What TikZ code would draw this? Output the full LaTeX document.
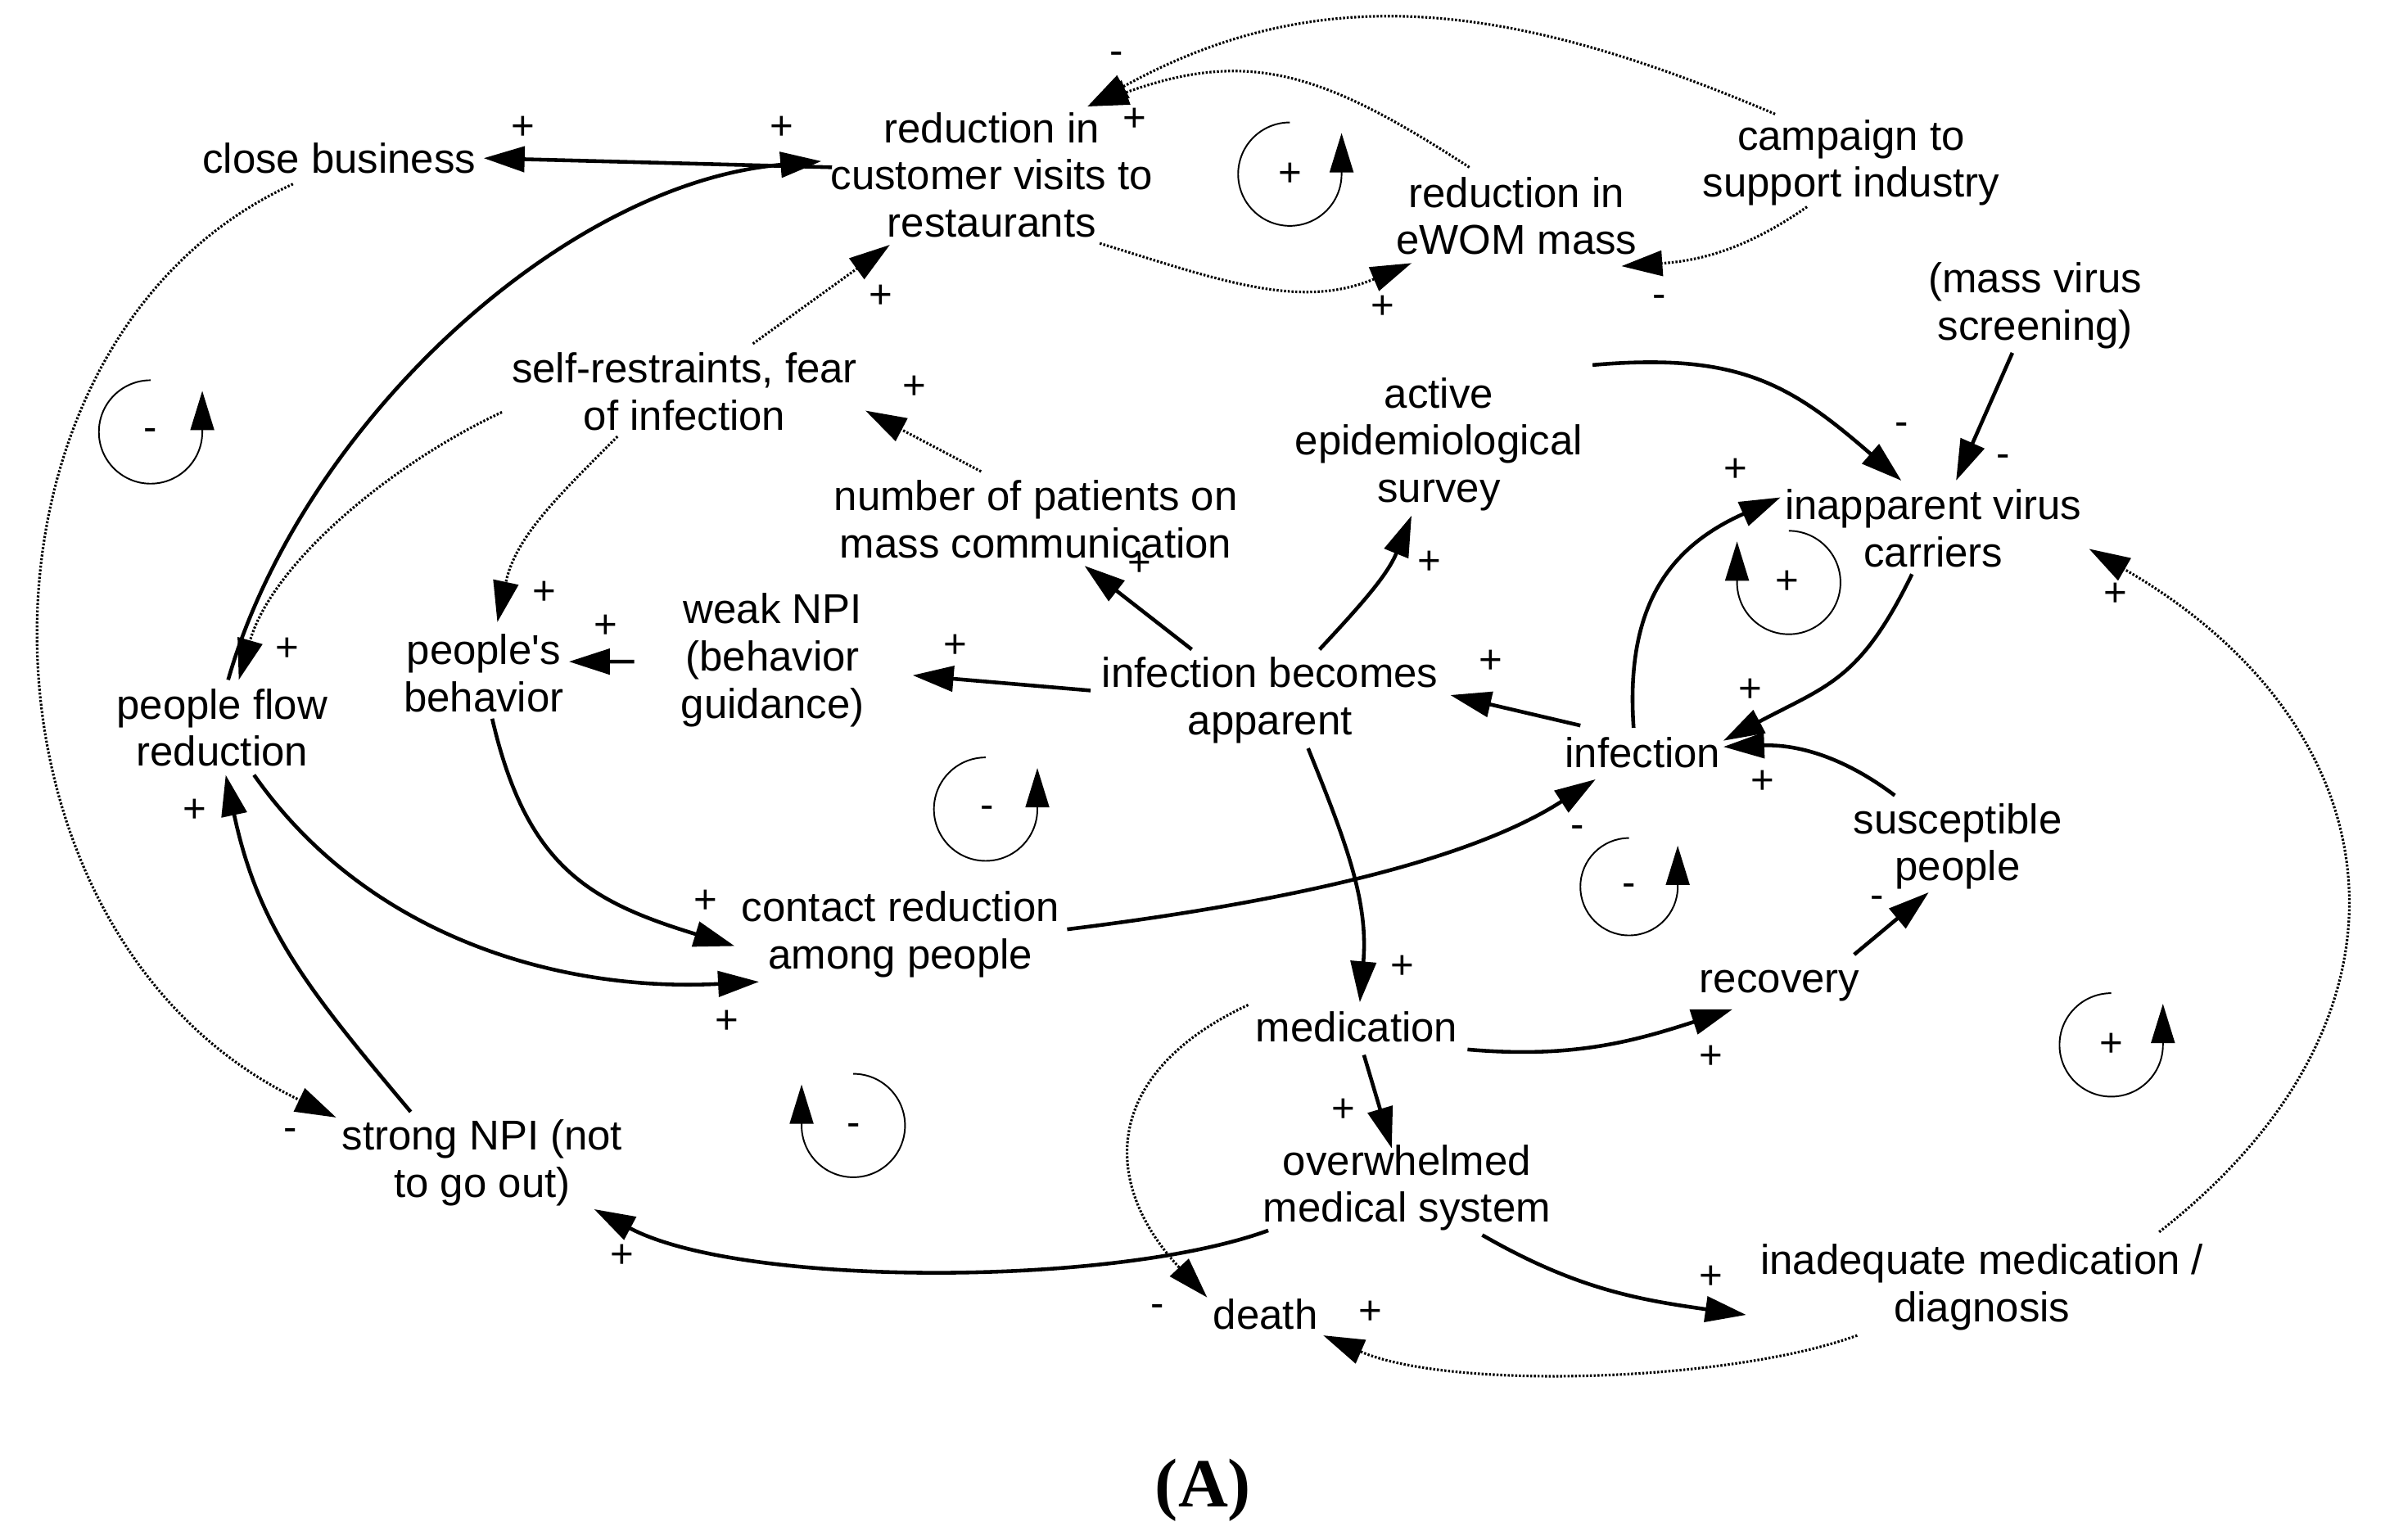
\documentclass[tikz,border=0pt]{standalone}
\usepackage{fontspec}
\setmainfont{Liberation Sans}
\newfontfamily\capfont{Liberation Serif}
\usetikzlibrary{arrows.meta, calc}

\begin{document}
\begin{tikzpicture}[
    x=0.01858cm, y=0.01858cm,
    var/.style={align=center, inner sep=1pt, font=\fontsize{14.5}{16.4}\selectfont},
    pol/.style={inner sep=0pt, font=\fontsize{14}{16}\selectfont},
    arrow/.style={-{Triangle[length=0.5cm, width=0.31cm]}, line width=1.3pt},
    dotarrow/.style={-{Triangle[length=0.5cm, width=0.31cm]}, line width=0.9pt, dash pattern=on 0.7pt off 0.6pt},
    loopline/.style={-{Triangle[length=0.48cm, width=0.29cm]}, line width=0.55pt}
]
\useasboundingbox (0,0) rectangle (1568,1012);

% --- Variables ---
\node[var] (cb) at (223,908) {close business};
\node[var] (rcv) at (652,897) {reduction in\\customer visits to\\restaurants};
\node[var] (ewom) at (997,870) {reduction in\\eWOM mass};
\node[var] (camp) at (1217,905) {campaign to\\support industry};
\node[var] (scr) at (1338,811) {(mass virus\\screening)};
\node[var] (fear) at (450,754.5) {self-restraints, fear\\of infection};
\node[var] (survey) at (946,720) {active\\epidemiological\\survey};
\node[var] (media) at (681,670.5) {number of patients on\\mass communication};
\node[var] (carrier) at (1271,664.5) {inapparent virus\\carriers};
\node[var] (behav) at (318,569.5) {people\textquotesingle s\\behavior};
\node[var] (weak) at (508,578) {weak NPI\\(behavior\\guidance)};
\node[var] (flow) at (146,533.5) {people flow\\reduction};
\node[var] (appar) at (835,551.5) {infection becomes\\apparent};
\node[var] (inf) at (1080,517) {infection};
\node[var] (susc) at (1287,455.5) {susceptible\\people};
\node[var] (contact) at (592,397.5) {contact reduction\\among people};
\node[var] (med) at (892,337) {medication};
\node[var] (recov) at (1170,364) {recovery};
\node[var] (strong) at (317,247.5) {strong NPI (not\\to go out)};
\node[var] (overw) at (925,231) {overwhelmed\\medical system};
\node[var] (inad) at (1303,165.5) {inadequate medication /\\diagnosis};
\node[var] (death) at (832,148) {death};
\node[font=\capfont\bfseries\fontsize{24}{28}\selectfont] (caption) at (791,32) {(A)};

% --- Links ---
\draw[arrow] ($(rcv)+(-105,5)$) -- ($(cb)+(95,0)$);
\draw[arrow] ($(flow)+(4,31.5)$) to[out=74, in=185, looseness=0.85] ($(rcv)+(-112,9)$);
\draw[dotarrow] ($(ewom)+(-31,32)$) to[out=147, in=20, looseness=1.14] ($(rcv)+(63,45)$);
\draw[dotarrow] ($(camp)+(-50,32)$) to[out=157, in=29, looseness=1.02] ($(rcv)+(63,45)$);
\draw[dotarrow] ($(rcv)+(71,-45)$) to[out=-17, in=203] ($(ewom)+(-69,-31)$);
\draw[dotarrow] ($(camp)+(-29,-29)$) to[out=215, in=4] ($(ewom)+(69,-33)$);
\draw[dotarrow] ($(fear)+(45,31.5)$) -- ($(rcv)+(-67,-46)$);
\draw[dotarrow] ($(media)+(-36,31.5)$) -- ($(fear)+(119,-12.5)$);
\draw[dotarrow] ($(fear)+(-120,-13.5)$) to[out=205, in=74, looseness=0.83] ($(flow)+(11,31.5)$);
\draw[dotarrow] ($(fear)+(-44,-29.5)$) to[out=225, in=78] ($(behav)+(9,33.5)$);
\draw[arrow] ($(weak)+(-91,-1)$) -- ($(behav)+(56,7.5)$);
\draw[arrow] ($(appar)+(-118,6.5)$) -- ($(weak)+(92,-10)$);
\draw[arrow] ($(appar)+(-51.5,33.5)$) -- ($(media)+(32,-30.5)$);
\draw[arrow] ($(appar)+(32.5,33.5)$) to[out=47, in=248] ($(survey)+(-18,-47)$);
\draw[arrow] ($(survey)+(101,52)$) to[out=5, in=139, looseness=1.14] ($(carrier)+(-21,31.5)$);
\draw[arrow] ($(scr)+(-15,-31)$) -- ($(carrier)+(15,31.5)$);
\draw[arrow] ($(inf)+(-6,16.5)$) to[out=94, in=204, looseness=1.14] ($(carrier)+(-100.4,20.5)$);
\draw[arrow] ($(carrier)+(-14,-30)$) to[out=244, in=28, looseness=1.2] ($(inf)+(53,8)$);
\draw[arrow] ($(susc)+(-41.3,33.5)$) to[out=143, in=2] ($(inf)+(53,4)$);
\draw[arrow] ($(inf)+(-41,18)$) -- ($(appar)+(118.5,3.5)$);
\draw[arrow] ($(contact)+(109.6,3.5)$) to[out=7, in=213, looseness=0.78] ($(inf)+(-31,-17.4)$);
\draw[arrow] ($(appar)+(25,-31.5)$) to[out=-68, in=85] ($(med)+(2,16)$);
\draw[arrow] ($(behav)+(5.6,-30)$) to[out=-77, in=163, looseness=1.17] ($(contact)+(-109,-7.5)$);
\draw[arrow] ($(flow)+(21,-31)$) to[out=-55, in=183, looseness=0.93] ($(contact)+(-93,-31)$);
\draw[arrow] ($(strong)+(-47,33.5)$) to[out=130, in=-78, looseness=1.05] ($(flow)+(2.4,-31)$);
\draw[dotarrow] ($(cb)+(-30.4,-17)$) .. controls +(-227.6,-104) and +(-251,119.7) .. ($(strong)+(-96,29.8)$);
\draw[arrow] ($(overw)+(-91.2,-28)$) to[out=200, in=-28, looseness=0.63] ($(strong)+(73.6,-30.5)$);
\draw[arrow] ($(med)+(4.7,-18.6)$) -- ($(overw)+(-10,26)$);
\draw[arrow] ($(med)+(72.8,-15)$) to[out=-5, in=198] ($(recov)+(-31,-15.6)$);
\draw[arrow] ($(recov)+(49,20.4)$) -- ($(susc)+(-19,-30.2)$);
\draw[dotarrow] ($(med)+(-71.4,14.3)$) to[out=205, in=133, looseness=1.38] ($(death)+(-38.4,11)$);
\draw[arrow] ($(overw)+(49.5,-31)$) to[out=-30, in=172] ($(inad)+(-155,-18)$);
\draw[dotarrow] ($(inad)+(-82,-31.5)$) to[out=200, in=-23.5, looseness=0.66] ($(death)+(38,-14)$);
\draw[dotarrow] ($(inad)+(116.5,36.5)$) to[out=38, in=-30, looseness=1.32] ($(carrier)+(102.5,-13.4)$);

% --- Polarities ---
\node[pol] (s1) at (344,928) {+};
\node[pol] (s2) at (514,928) {+};
\node[pol] (s3) at (734,974) {-};
\node[pol] (s4) at (746,933) {+};
\node[pol] (s5) at (909,810) {+};
\node[pol] (s6) at (1091,814) {-};
\node[pol] (s7) at (579,817) {+};
\node[pol] (s8) at (601,757) {+};
\node[pol] (s9) at (189,585) {+};
\node[pol] (s10) at (358,622) {+};
\node[pol] (s11) at (398,600) {+};
\node[pol] (s12) at (628,587) {+};
\node[pol] (s13) at (749,641) {+};
\node[pol] (s14) at (940,642) {+};
\node[pol] (s15) at (1250,730) {-};
\node[pol] (s16) at (1317,709) {-};
\node[pol] (s17) at (1141,703) {+};
\node[pol] (s18) at (1151,558) {+};
\node[pol] (s19) at (1159,498) {+};
\node[pol] (s20) at (980,577) {+};
\node[pol] (s21) at (1037,465) {-};
\node[pol] (s22) at (922,376) {+};
\node[pol] (s23) at (464,419) {+};
\node[pol] (s24) at (478,340) {+};
\node[pol] (s25) at (128,479) {+};
\node[pol] (s26) at (191,266) {-};
\node[pol] (s27) at (409,186) {+};
\node[pol] (s28) at (883,282) {+};
\node[pol] (s29) at (1125,317) {+};
\node[pol] (s30) at (1234,419) {-};
\node[pol] (s31) at (761,150) {-};
\node[pol] (s32) at (1125,172) {+};
\node[pol] (s33) at (901,149) {+};
\node[pol] (s34) at (1391,621) {+};

% --- Loop markers ---
\draw[loopline] (99,762) arc[start angle=90, end angle=360, radius=34] -- ++(0,27);
\draw[loopline] (848,931.5) arc[start angle=90, end angle=360, radius=34] -- ++(0,27);
\draw[loopline] (648,514) arc[start angle=90, end angle=360, radius=34] -- ++(0,27);
\draw[loopline] (1071,461) arc[start angle=90, end angle=360, radius=32] -- ++(0,27);
\draw[loopline] (1176,663) arc[start angle=90, end angle=-180, radius=34] -- ++(0,27);
\draw[loopline] (561,306) arc[start angle=90, end angle=-180, radius=34] -- ++(0,27);
\draw[loopline] (1388,359) arc[start angle=90, end angle=360, radius=34] -- ++(0,27);
\node[pol] (l1) at (99,726) {-};
\node[pol] (l2) at (848,897) {+};
\node[pol] (l3) at (649,478) {-};
\node[pol] (l4) at (1071,427) {-};
\node[pol] (l5) at (1175,629) {+};
\node[pol] (l6) at (561,269) {-};
\node[pol] (l7) at (1388,325) {+};

\end{tikzpicture}
\end{document}
